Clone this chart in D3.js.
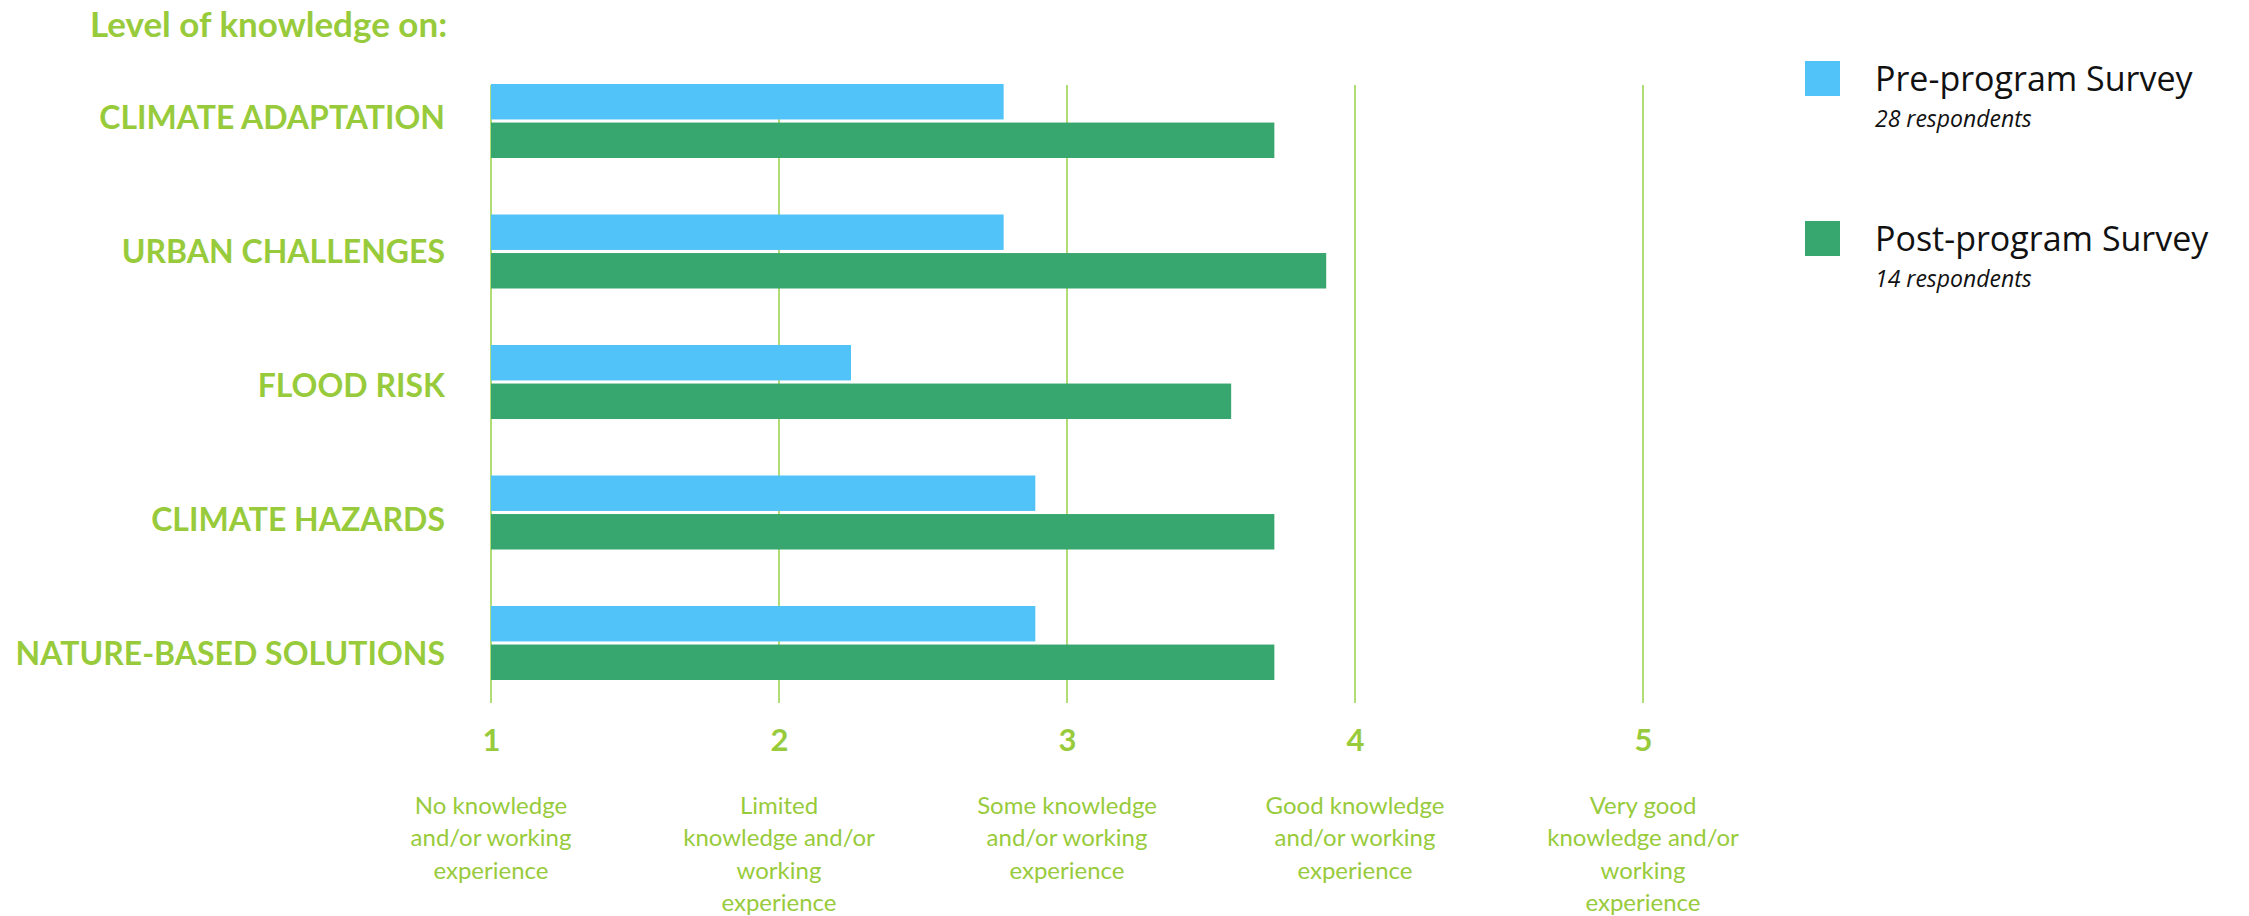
<!DOCTYPE html>
<html>
<head>
<meta charset="utf-8">
<script src="https://cdn.jsdelivr.net/npm/d3@7"></script>
<style>
  body { margin: 0; background: #fff; }
  svg { display: block; }
</style>
</head>
<body>
<div id="chart"></div>
<script>
// data
const categories = ["CLIMATE ADAPTATION", "URBAN CHALLENGES", "FLOOD RISK", "CLIMATE HAZARDS", "NATURE-BASED SOLUTIONS"];
const preValues = [2.78, 2.78, 2.25, 2.89, 2.89];
const postValues = [3.72, 3.9, 3.57, 3.72, 3.72];
const seriesNames = ["Pre-program Survey", "Post-program Survey"];
const seriesNotes = ["28 respondents", "14 respondents"];
const tickValues = [1, 2, 3, 4, 5];
const tickLabels = [
  ["No knowledge", "and/or working", "experience"],
  ["Limited", "knowledge and/or", "working", "experience"],
  ["Some knowledge", "and/or working", "experience"],
  ["Good knowledge", "and/or working", "experience"],
  ["Very good", "knowledge and/or", "working", "experience"]
];

const width = 2249, height = 916;
const lime = "#98CB3B", gridColor = "#9FD453";
const colors = ["#52C3F8", "#38A76F"];

const svg = d3.select("#chart").append("svg")
  .attr("width", width)
  .attr("height", height);

const x = d3.scaleLinear().domain([1, 5]).range([491, 1643]);

// bar groups and their labels sit on slightly different rows in the original
const y = d3.scalePoint()
  .domain(categories)
  .range([121, 643]);

const yLabel = d3.scalePoint()
  .domain(categories)
  .range([117.5, 653.5]);

const inner = d3.scaleBand()
  .domain(seriesNames)
  .range([-37, 37])
  .paddingInner(0.08);

const color = d3.scaleOrdinal().domain(seriesNames).range(colors);

// title
svg.append("text")
  .attr("x", 90)
  .attr("y", 37)
  .attr("font-family", "Lato, sans-serif")
  .attr("font-weight", 700)
  .attr("font-size", 35)
  .attr("fill", lime)
  .text("Level of knowledge on:");

// vertical grid lines
svg.append("g")
  .selectAll("line")
  .data(tickValues)
  .join("line")
  .attr("x1", d => x(d))
  .attr("x2", d => x(d))
  .attr("y1", 85)
  .attr("y2", 703)
  .attr("stroke", gridColor)
  .attr("stroke-width", 1.6);

// bars
const rows = categories.map((c, i) => ({
  cat: c,
  vals: [
    { s: seriesNames[0], v: preValues[i] },
    { s: seriesNames[1], v: postValues[i] }
  ]
}));

const groups = svg.append("g")
  .selectAll("g")
  .data(rows)
  .join("g")
  .attr("transform", d => `translate(0,${y(d.cat)})`);

groups.selectAll("rect")
  .data(d => d.vals)
  .join("rect")
  .attr("x", x(1))
  .attr("y", d => inner(d.s))
  .attr("width", d => x(d.v) - x(1))
  .attr("height", inner.bandwidth())
  .attr("fill", d => color(d.s));

// category labels
svg.append("g")
  .selectAll("text")
  .data(categories)
  .join("text")
  .attr("x", 445)
  .attr("y", d => yLabel(d))
  .attr("dy", "0.36em")
  .attr("text-anchor", "end")
  .attr("font-family", "Lato, sans-serif")
  .attr("font-weight", 700)
  .attr("font-size", 32)
  .attr("fill", lime)
  .text(d => d);

// x axis numbers
const xAxis = d3.axisBottom(x)
  .tickValues(tickValues)
  .tickFormat(d3.format("d"))
  .tickSize(0)
  .tickPadding(0);

const axisG = svg.append("g")
  .attr("transform", "translate(0,729)")
  .call(xAxis);
axisG.select(".domain").remove();
axisG.selectAll("text")
  .attr("font-family", "Lato, sans-serif")
  .attr("font-weight", 700)
  .attr("font-size", 31)
  .attr("fill", lime);

// descriptions under the numbers
const desc = svg.append("g")
  .selectAll("text")
  .data(tickValues)
  .join("text")
  .attr("x", d => x(d))
  .attr("y", 814)
  .attr("text-anchor", "middle")
  .attr("font-family", "Lato, sans-serif")
  .attr("font-weight", 400)
  .attr("font-size", 24)
  .attr("fill", lime);

desc.selectAll("tspan")
  .data((d, i) => tickLabels[i])
  .join("tspan")
  .attr("x", function() { return this.parentNode.getAttribute("x"); })
  .attr("dy", (d, i) => i === 0 ? 0 : 32.3)
  .text(d => d);

// legend
const legend = svg.append("g")
  .selectAll("g")
  .data(seriesNames)
  .join("g")
  .attr("transform", (d, i) => `translate(1805,${61 + i * 160})`);

legend.append("rect")
  .attr("width", 35)
  .attr("height", 35)
  .attr("fill", d => color(d));

legend.append("text")
  .attr("x", 70)
  .attr("y", 30)
  .attr("font-family", "'Open Sans', sans-serif")
  .attr("font-size", 34)
  .attr("fill", "#111")
  .text(d => d);

legend.append("text")
  .attr("x", 70)
  .attr("y", 66)
  .attr("font-family", "'Open Sans', sans-serif")
  .attr("font-style", "italic")
  .attr("font-size", 23)
  .attr("fill", "#111")
  .text((d, i) => seriesNotes[i]);
</script>
</body>
</html>
